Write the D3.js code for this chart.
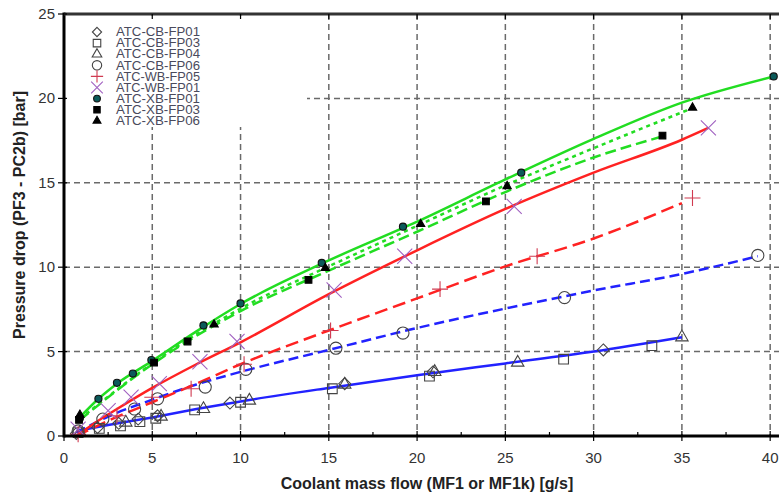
<!DOCTYPE html>
<html>
<head>
<meta charset="utf-8">
<script src="https://cdn.jsdelivr.net/npm/d3@7"></script>
<style>
  body { margin: 0; background: #fff; }
  text { font-family: Arial, "Liberation Sans", sans-serif; }
</style>
</head>
<body>
<div id="chart"></div>
<script>
// Axis ticks
const xTicks = [0, 5, 10, 15, 20, 25, 30, 35, 40];
const xMinorTicks = [2.5, 7.5, 12.5, 17.5, 22.5, 27.5, 32.5, 37.5];
const yTicks = [0, 5, 10, 15, 20, 25];

// Measured points [mass flow g/s, pressure drop bar]
const cbFp01 = [[0.7, 0.15], [1.9, 0.5], [3.1, 0.75], [4.2, 1.0], [5.3, 1.2], [9.4, 1.95], [15.9, 3.1], [20.9, 3.8], [30.55, 5.1]];
const cbFp03 = [[0.8, 0.2], [2.0, 0.45], [3.2, 0.6], [4.3, 0.85], [5.2, 1.05], [7.4, 1.55], [10.0, 2.0], [15.2, 2.8], [20.7, 3.55], [28.3, 4.55], [33.3, 5.35]];
const cbFp04 = [[0.9, 0.2], [3.5, 0.8], [5.5, 1.15], [7.9, 1.6], [10.5, 2.1], [15.9, 3.05], [21.0, 3.8], [25.7, 4.35], [35.0, 5.85]];
const cbFp06 = [[0.8, 0.3], [2.2, 1.0], [4.0, 1.6], [5.3, 2.2], [8.0, 2.9], [10.3, 3.95], [15.4, 5.2], [19.2, 6.1], [28.35, 8.2], [39.3, 10.7]];
const wbFp05 = [[0.8, 0.1], [3.0, 1.2], [5.0, 2.3], [7.2, 2.8], [10.2, 4.25], [15.1, 6.25], [21.3, 8.7], [26.8, 10.65], [35.6, 14.1]];
const wbFp01 = [[0.8, 0.4], [2.5, 1.5], [3.8, 2.3], [5.4, 3.1], [7.7, 4.4], [9.8, 5.6], [15.3, 8.65], [19.3, 10.65], [25.5, 13.6], [36.5, 18.25]];
const xbFp01 = [[0.9, 1.05], [1.95, 2.2], [3.0, 3.15], [3.9, 3.7], [4.95, 4.5], [7.9, 6.55], [10.0, 7.85], [14.6, 10.25], [19.2, 12.4], [25.9, 15.6], [40.2, 21.3]];
const xbFp03 = [[0.85, 0.95], [5.1, 4.35], [7.0, 5.6], [13.85, 9.25], [23.9, 13.9], [33.9, 17.8]];
const xbFp06 = [[0.9, 1.25], [8.5, 6.6], [14.8, 9.95], [20.2, 12.55], [25.1, 14.8], [35.6, 19.45]];

// Fitted curves
const fitXbFp01 = [[0.8, 1.0], [2, 2.25], [3, 3.1], [5, 4.45], [7.5, 6.2], [10, 7.82], [15, 10.4], [20, 12.7], [25, 15.2], [30, 17.6], [35, 19.75], [40.2, 21.3]];
const fitXbFp06 = [[0.9, 1.0], [5, 4.3], [10, 7.55], [15, 10.05], [20, 12.45], [25, 14.85], [30, 17.05], [35.3, 19.3]];
const fitXbFp03 = [[0.9, 0.95], [5, 4.25], [10, 7.4], [15, 9.8], [20, 12.1], [25, 14.45], [30, 16.5], [33.9, 17.75]];
const fitWbFp01 = [[0.7, 0], [2, 0.95], [3, 1.6], [5, 2.85], [7.5, 4.25], [10, 5.55], [15, 8.4], [20, 11.0], [25, 13.45], [30, 15.6], [35, 17.55], [36.5, 18.25]];
const fitWbFp05 = [[0.7, 0], [2.5, 0.9], [5, 2.0], [7.5, 3.1], [10, 4.25], [15, 6.25], [20, 8.15], [25, 10.05], [30, 11.7], [35, 13.8]];
const fitCbFp06 = [[0.7, 0.2], [2.5, 1.15], [5, 2.15], [7.5, 3.05], [10, 3.8], [15, 5.1], [20, 6.4], [25, 7.55], [30, 8.62], [35, 9.6], [39.3, 10.65]];
const fitCb = [[0.7, 0.3], [2.5, 0.65], [5, 1.1], [7.5, 1.6], [10, 2.05], [15, 2.85], [20, 3.6], [25, 4.3], [30, 5.0], [35, 5.85]];

const W = 779, H = 497;
const plotLeft = 64, plotTop = 14, plotBottom = 436;

const svg = d3.select('#chart').append('svg')
  .attr('width', W).attr('height', H);

const x = d3.scaleLinear().domain([0, 40.5]).range([plotLeft, W]);
const y = d3.scaleLinear().domain([0, 25]).range([plotBottom, plotTop]);

// Grid
const grid = svg.append('g').attr('stroke', '#6a6a6a').attr('stroke-width', 1.5).attr('stroke-dasharray', '6,4');
grid.selectAll('.vg').data(xTicks.slice(1)).enter().append('line')
  .attr('x1', d => x(d)).attr('x2', d => x(d)).attr('y1', plotTop).attr('y2', plotBottom);
grid.selectAll('.hg').data(yTicks.slice(1, -1)).enter().append('line')
  .attr('x1', plotLeft).attr('x2', W).attr('y1', d => y(d)).attr('y2', d => y(d));

// Legend background hides the grid behind it
svg.append('rect').attr('x', plotLeft + 2).attr('y', plotTop + 2).attr('width', 241).attr('height', 111).attr('fill', '#fff');

// Fit lines
const line = d3.line().x(d => x(d[0])).y(d => y(d[1])).curve(d3.curveMonotoneX);
const fits = [
  { pts: fitCb, color: '#2222ff', dash: null },
  { pts: fitCbFp06, color: '#2222ff', dash: '10,5' },
  { pts: fitWbFp05, color: '#ff2222', dash: '13,6' },
  { pts: fitWbFp01, color: '#ff2222', dash: null },
  { pts: fitXbFp03, color: '#22dd22', dash: '11,5' },
  { pts: fitXbFp06, color: '#22dd22', dash: '4,4' },
  { pts: fitXbFp01, color: '#22dd22', dash: null }
];
svg.selectAll('.fit').data(fits).enter().append('path')
  .attr('class', 'fit')
  .attr('d', d => line(d.pts))
  .attr('fill', 'none')
  .attr('stroke', d => d.color)
  .attr('stroke-width', 2.5)
  .attr('stroke-dasharray', d => d.dash);

// Point series
const series = [
  { name: 'ATC-CB-FP01', pts: cbFp01, type: d3.symbolDiamond2, size: 90, fill: 'none', stroke: '#444' },
  { name: 'ATC-CB-FP03', pts: cbFp03, type: d3.symbolSquare2, size: 120, fill: 'none', stroke: '#444' },
  { name: 'ATC-CB-FP04', pts: cbFp04, type: d3.symbolTriangle2, size: 110, fill: 'none', stroke: '#444' },
  { name: 'ATC-CB-FP06', pts: cbFp06, type: d3.symbolCircle, size: 115, fill: 'none', stroke: '#444' },
  { name: 'ATC-WB-FP05', pts: wbFp05, type: d3.symbolPlus, size: 85, fill: 'none', stroke: '#d03a50' },
  { name: 'ATC-WB-FP01', pts: wbFp01, type: d3.symbolTimes, size: 150, fill: 'none', stroke: '#a060c0' },
  { name: 'ATC-XB-FP01', pts: xbFp01, type: d3.symbolCircle, size: 40, fill: '#0b5a5a', stroke: '#111' },
  { name: 'ATC-XB-FP03', pts: xbFp03, type: d3.symbolSquare, size: 45, fill: '#000', stroke: '#000' },
  { name: 'ATC-XB-FP06', pts: xbFp06, type: d3.symbolTriangle, size: 30, fill: '#000', stroke: '#000' }
];

series.forEach(s => {
  const sym = d3.symbol().type(s.type).size(s.size);
  svg.append('g').selectAll('path').data(s.pts).enter().append('path')
    .attr('transform', d => `translate(${x(d[0])},${y(d[1])})`)
    .attr('d', sym)
    .attr('fill', s.fill)
    .attr('stroke', s.stroke)
    .attr('stroke-width', 1.1);
});

// Legend
const legend = svg.append('g');
series.forEach((s, i) => {
  const ly = 32 + i * 11.1;
  const lsize = s.fill === 'none' ? s.size * 0.6 : s.size * 0.9;
  legend.append('path')
    .attr('transform', `translate(97,${ly})`)
    .attr('d', d3.symbol().type(s.type).size(lsize))
    .attr('fill', s.fill)
    .attr('stroke', s.stroke)
    .attr('stroke-width', 1.1);
  legend.append('text')
    .attr('x', 116).attr('y', ly + 4.2)
    .attr('textLength', 84)
    .attr('lengthAdjust', 'spacingAndGlyphs')
    .style('font-size', '12px')
    .attr('fill', '#4a4a5c')
    .text(s.name);
});

// Frame: left, bottom and top borders
svg.append('line').attr('x1', plotLeft).attr('x2', plotLeft).attr('y1', plotTop - 1.5).attr('y2', plotBottom + 1.5)
  .attr('stroke', '#000').attr('stroke-width', 3);
svg.append('line').attr('x1', plotLeft).attr('x2', W).attr('y1', plotBottom).attr('y2', plotBottom)
  .attr('stroke', '#000').attr('stroke-width', 3);
svg.append('line').attr('x1', plotLeft).attr('x2', W).attr('y1', plotTop).attr('y2', plotTop)
  .attr('stroke', '#333').attr('stroke-width', 3);

// Ticks
const ticks = svg.append('g').attr('stroke', '#000').attr('stroke-width', 1.2);
ticks.selectAll('.xt').data(xTicks).enter().append('line')
  .attr('x1', d => x(d)).attr('x2', d => x(d)).attr('y1', plotBottom - 5).attr('y2', plotBottom + 5);
ticks.selectAll('.xm').data(xMinorTicks).enter().append('line')
  .attr('x1', d => x(d)).attr('x2', d => x(d)).attr('y1', plotBottom - 4).attr('y2', plotBottom);
ticks.selectAll('.xtop').data(xTicks.slice(1)).enter().append('line')
  .attr('x1', d => x(d)).attr('x2', d => x(d)).attr('y1', plotTop).attr('y2', plotTop + 5);
ticks.selectAll('.yt').data(yTicks).enter().append('line')
  .attr('x1', plotLeft - 6).attr('x2', plotLeft + 3).attr('y1', d => y(d)).attr('y2', d => y(d));

// Tick labels
svg.selectAll('.xl').data(xTicks).enter().append('text')
  .attr('x', d => x(d)).attr('y', 463)
  .attr('text-anchor', 'middle')
  .style('font-size', '15px').attr('fill', '#333')
  .text(d => d);
svg.selectAll('.yl').data(yTicks).enter().append('text')
  .attr('x', 55).attr('y', d => y(d) + 5)
  .attr('text-anchor', 'end')
  .style('font-size', '15px').attr('fill', '#333')
  .text(d => d);

// Axis titles
svg.append('text')
  .attr('x', 427).attr('y', 489)
  .attr('text-anchor', 'middle')
  .style('font-size', '16px').style('font-weight', 'bold').attr('fill', '#222')
  .text('Coolant mass flow (MF1 or MF1k) [g/s]');
svg.append('text')
  .attr('transform', 'translate(25,215) rotate(-90)')
  .attr('text-anchor', 'middle')
  .style('font-size', '16px').style('font-weight', 'bold').attr('fill', '#222')
  .text('Pressure drop (PF3 - PC2b) [bar]');
</script>
</body>
</html>
